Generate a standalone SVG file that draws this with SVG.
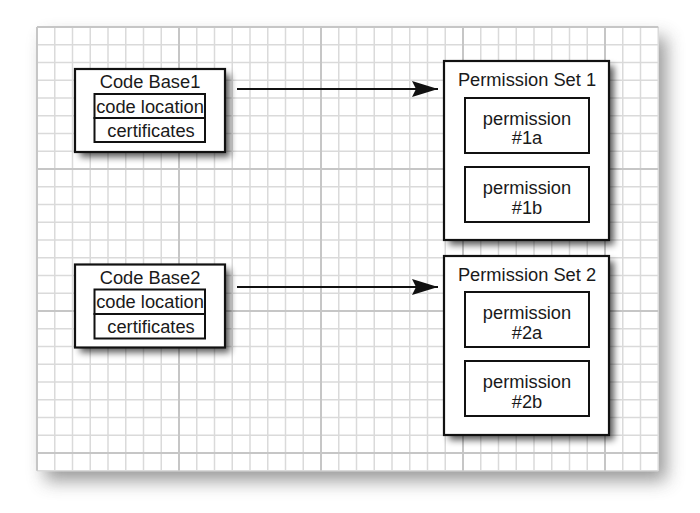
<svg xmlns="http://www.w3.org/2000/svg" width="700" height="513" viewBox="0 0 700 513">
<style>
.minor{stroke:#dadada;stroke-width:1.5;fill:none}
.major{stroke:#c6c6c6;stroke-width:2;fill:none}
.box{fill:#fff;stroke:#111;stroke-width:2.2}
.inner{fill:#fff;stroke:#111;stroke-width:2}
.t{font-family:"Liberation Sans",Arial,sans-serif;font-size:18.3px;fill:#1a1a1a;text-anchor:middle}
.edge{stroke:#111;stroke-width:2;fill:none}
</style>
<defs>
<filter id="paperShadow" x="-10%" y="-10%" width="125%" height="130%">
<feGaussianBlur stdDeviation="9"/>
<feOffset dx="8" dy="10"/>
</filter>
<filter id="boxShadow" x="-10%" y="-10%" width="130%" height="130%">
<feGaussianBlur stdDeviation="3.5"/>
<feOffset dx="5" dy="5"/>
</filter>
<marker id="arrow" markerUnits="userSpaceOnUse" markerWidth="28" markerHeight="16" refX="26" refY="8" orient="auto">
<path d="M0,0 L26,8 L0,16 L4,8 Z" fill="#111"/>
</marker>
</defs>
<rect width="700" height="513" fill="#fff"/>
<g id="paper">
<rect x="37" y="27" width="621.25" height="443.75" fill="#555" opacity="0.6" filter="url(#paperShadow)"/>
<rect x="37" y="27" width="621.25" height="443.75" fill="#fff"/>
<path class="minor" d="M54.75 27V470.75M72.5 27V470.75M90.25 27V470.75M108 27V470.75M125.75 27V470.75M143.5 27V470.75M161.25 27V470.75M196.75 27V470.75M214.5 27V470.75M232.25 27V470.75M250 27V470.75M267.75 27V470.75M285.5 27V470.75M303.25 27V470.75M338.75 27V470.75M356.5 27V470.75M374.25 27V470.75M392 27V470.75M409.75 27V470.75M427.5 27V470.75M445.25 27V470.75M480.75 27V470.75M498.5 27V470.75M516.25 27V470.75M534 27V470.75M551.75 27V470.75M569.5 27V470.75M587.25 27V470.75M622.75 27V470.75M640.5 27V470.75M658.25 27V470.75
M37 44.75H658.25M37 62.5H658.25M37 80.25H658.25M37 98H658.25M37 115.75H658.25M37 133.5H658.25M37 151.25H658.25M37 186.75H658.25M37 204.5H658.25M37 222.25H658.25M37 240H658.25M37 257.75H658.25M37 275.5H658.25M37 293.25H658.25M37 328.75H658.25M37 346.5H658.25M37 364.25H658.25M37 382H658.25M37 399.75H658.25M37 417.5H658.25M37 435.25H658.25M37 470.75H658.25"/>
<path class="major" d="M37 27V470.75M179 27V470.75M321 27V470.75M463 27V470.75M605 27V470.75M37 27H658.25M37 169H658.25M37 311H658.25M37 453H658.25"/>
</g>
<g id="connectors">
<line class="edge" x1="237" y1="89" x2="438" y2="89" marker-end="url(#arrow)"/>
<line class="edge" x1="237" y1="287" x2="438" y2="287" marker-end="url(#arrow)"/>
</g>
<g id="codebase1">
<rect x="75" y="69" width="150" height="83" fill="#000" opacity="0.65" filter="url(#boxShadow)"/>
<rect class="box" x="75" y="69" width="150" height="83"/>
<text class="t" x="150" y="87.5">Code Base1</text>
<rect class="inner" x="94.5" y="94" width="110.5" height="24"/>
<rect class="inner" x="94.5" y="118" width="110.5" height="24"/>
<text class="t" x="150" y="112.5">code location</text>
<text class="t" x="151" y="137">certificates</text>
</g>
<g id="codebase2">
<rect x="75" y="264.5" width="150" height="83" fill="#000" opacity="0.65" filter="url(#boxShadow)"/>
<rect class="box" x="75" y="264.5" width="150" height="83"/>
<text class="t" x="150" y="284">Code Base2</text>
<rect class="inner" x="94.5" y="289.5" width="110.5" height="24.5"/>
<rect class="inner" x="94.5" y="314" width="110.5" height="24.5"/>
<text class="t" x="150" y="308">code location</text>
<text class="t" x="151" y="332.5">certificates</text>
</g>
<g id="permset1">
<rect x="444" y="61" width="165" height="179" fill="#000" opacity="0.65" filter="url(#boxShadow)"/>
<rect class="box" x="444" y="61" width="165" height="179"/>
<text class="t" x="527" y="85.5">Permission Set 1</text>
<g id="perm1a">
<rect class="inner" x="465" y="98" width="124" height="55"/>
<text class="t" x="527" y="124.5">permission</text>
<text class="t" x="527" y="143.5">#1a</text>
</g>
<g id="perm1b">
<rect class="inner" x="465" y="167" width="124" height="55"/>
<text class="t" x="527" y="193.5">permission</text>
<text class="t" x="527" y="213.5">#1b</text>
</g>
</g>
<g id="permset2">
<rect x="444" y="256" width="165" height="179" fill="#000" opacity="0.65" filter="url(#boxShadow)"/>
<rect class="box" x="444" y="256" width="165" height="179"/>
<text class="t" x="527" y="280.5">Permission Set 2</text>
<g id="perm2a">
<rect class="inner" x="465" y="292" width="124" height="55"/>
<text class="t" x="527" y="318.5">permission</text>
<text class="t" x="527" y="338.5">#2a</text>
</g>
<g id="perm2b">
<rect class="inner" x="465" y="361" width="124" height="55"/>
<text class="t" x="527" y="387.5">permission</text>
<text class="t" x="527" y="407.5">#2b</text>
</g>
</g>
</svg>
